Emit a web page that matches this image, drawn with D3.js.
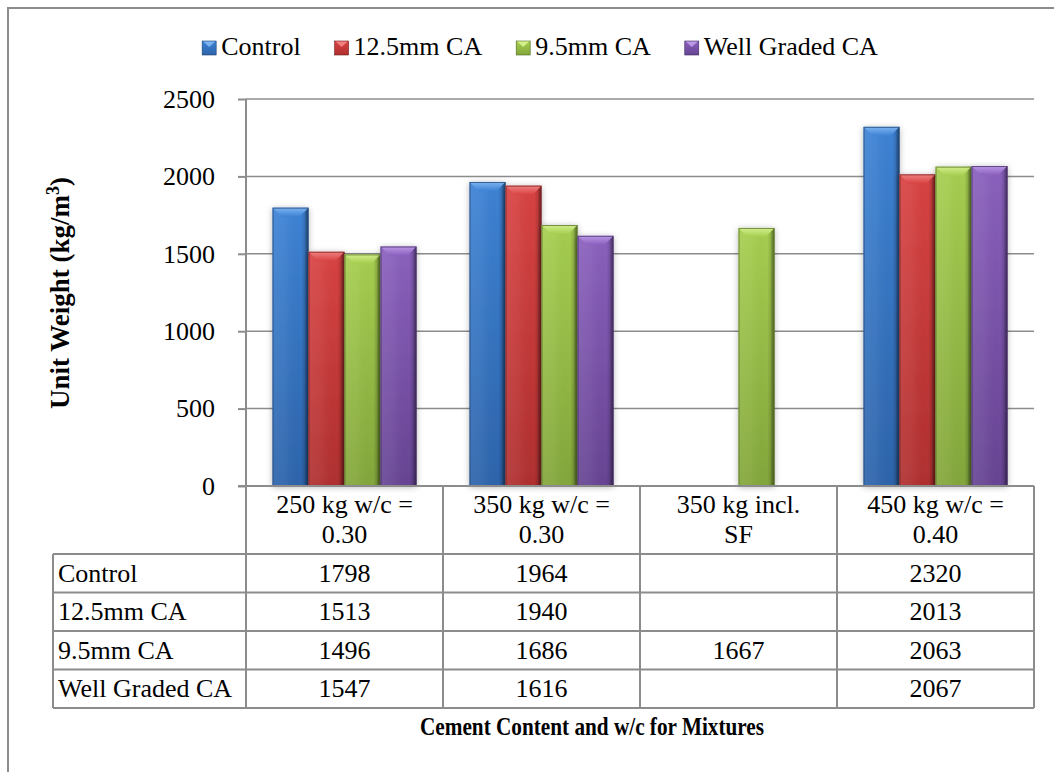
<!DOCTYPE html>
<html>
<head>
<meta charset="utf-8">
<script src="https://cdn.jsdelivr.net/npm/d3@7"></script>
<style>
  html, body { margin: 0; padding: 0; background: #fff; }
  svg { display: block; }
</style>
</head>
<body>
<svg id="chart" width="1054" height="772"></svg>
<script>
// Mixture groups (header lines of the data table)
const categories = ["250 kg w/c = 0.30", "350 kg w/c = 0.30", "350 kg incl. SF", "450 kg w/c = 0.40"];
const categoryLines = [["250 kg w/c =", "0.30"], ["350 kg w/c =", "0.30"], ["350 kg incl.", "SF"], ["450 kg w/c =", "0.40"]];

// Series names and unit weights (kg/m3); null = mixture not cast
const seriesNames = ["Control", "12.5mm CA", "9.5mm CA", "Well Graded CA"];
const control     = [1798, 1964, null, 2320];
const ca125       = [1513, 1940, null, 2013];
const ca95        = [1496, 1686, 1667, 2063];
const wellGraded  = [1547, 1616, null, 2067];
const seriesValues = [control, ca125, ca95, wellGraded];

const yTicks = [0, 500, 1000, 1500, 2000, 2500];

// Bar palettes: [top, bottom, bevel highlight, edge]
const palette = [
  ["#3d82d4", "#2d64ab", "#7db4f0", "#1d3f6e"],
  ["#d84343", "#b02f2f", "#f08080", "#6e1c1c"],
  ["#a6ce50", "#83a63b", "#d2ef8c", "#4f6a1e"],
  ["#8a60bd", "#674493", "#bb98e6", "#3d2760"]
];

const svg = d3.select("#chart");
const defs = svg.append("defs");

const plotLeft = 246, plotRight = 1034, plotTop = 99, plotBottom = 486;
const tableLeft = 53, tableBottom = 708, headerBottom = 554;
const grey = "#8c8c8c";

// Chart frame (runs off the right and bottom of the view)
svg.append("path")
  .attr("d", "M8,772 L8,8 L1054,8")
  .attr("fill", "none").attr("stroke", grey).attr("stroke-width", 2);

const x0 = d3.scaleBand().domain(categories).range([plotLeft, plotRight]);
const x1 = d3.scaleBand().domain(seriesNames).range([0, x0.bandwidth()]).paddingOuter(0.736);
const y = d3.scaleLinear().domain([0, 2500]).range([plotBottom, plotTop]);
const rowY = d3.scaleBand().domain(seriesNames).range([headerBottom, tableBottom]);

// Gradients and shadow
palette.forEach((p, i) => {
  const g = defs.append("linearGradient").attr("id", "body" + i)
    .attr("x1", 0).attr("y1", 0).attr("x2", 0).attr("y2", 1);
  g.append("stop").attr("offset", "0%").attr("stop-color", p[0]);
  g.append("stop").attr("offset", "100%").attr("stop-color", p[1]);
  const c = defs.append("linearGradient").attr("id", "cap" + i)
    .attr("x1", 0).attr("y1", 0).attr("x2", 0).attr("y2", 1);
  c.append("stop").attr("offset", "0%").attr("stop-color", p[2]);
  c.append("stop").attr("offset", "100%").attr("stop-color", p[0]);
});
const side = defs.append("linearGradient").attr("id", "side")
  .attr("x1", 0).attr("y1", 0).attr("x2", 1).attr("y2", 0);
side.append("stop").attr("offset", "0%").attr("stop-color", "#fff").attr("stop-opacity", 0.08);
side.append("stop").attr("offset", "35%").attr("stop-color", "#fff").attr("stop-opacity", 0.05);
side.append("stop").attr("offset", "80%").attr("stop-color", "#000").attr("stop-opacity", 0.0);
side.append("stop").attr("offset", "100%").attr("stop-color", "#000").attr("stop-opacity", 0.28);
const shadow = defs.append("filter").attr("id", "shadow")
  .attr("x", "-30%").attr("y", "-10%").attr("width", "160%").attr("height", "120%");
shadow.append("feDropShadow").attr("dx", 0).attr("dy", 1).attr("stdDeviation", 3)
  .attr("flood-color", "#000").attr("flood-opacity", 0.3);

// Gridlines
svg.append("g").selectAll("line")
  .data(yTicks.filter(d => d > 0))
  .join("line")
  .attr("x1", plotLeft).attr("x2", plotRight)
  .attr("y1", d => y(d)).attr("y2", d => y(d))
  .attr("stroke", grey).attr("stroke-width", 1.5);

const txt = (sel, size, weight) => sel
  .attr("font-family", "Liberation Serif")
  .attr("font-size", size)
  .attr("font-weight", weight || "normal")
  .attr("fill", "#000");

// Y axis
const yAxis = svg.append("g").attr("transform", `translate(${plotLeft},0)`)
  .call(d3.axisLeft(y).tickValues(yTicks).tickSize(8).tickPadding(23).tickFormat(d3.format("d")));
yAxis.attr("font-family", "Liberation Serif").attr("font-size", 26);
yAxis.select(".domain").remove();
yAxis.selectAll(".tick line").attr("stroke", grey).attr("stroke-width", 2);
yAxis.selectAll(".tick text").call(txt, 26);
svg.append("line")
  .attr("x1", plotLeft).attr("x2", plotLeft).attr("y1", plotTop).attr("y2", tableBottom)
  .attr("stroke", grey).attr("stroke-width", 2);

// Bars
const bev = 9;
const bars = [];
seriesValues.forEach((vals, si) => {
  vals.forEach((v, ci) => {
    if (v == null) return;
    bars.push({ si, ci, v });
  });
});
const barG = svg.append("g").selectAll("g").data(bars).join("g");
barG.each(function (d) {
  const g = d3.select(this);
  const xa = x0(categories[d.ci]) + x1(seriesNames[d.si]);
  const w = x1.bandwidth();
  const xb = xa + w;
  const yt = y(d.v), yb = y(0);
  const p = palette[d.si];
  g.append("rect").attr("x", xa).attr("y", yt).attr("width", w).attr("height", yb - yt)
    .attr("fill", `url(#body${d.si})`).attr("filter", "url(#shadow)");
  g.append("rect").attr("x", xa).attr("y", yt).attr("width", w).attr("height", yb - yt)
    .attr("fill", "url(#side)");
  // top bevel
  g.append("path")
    .attr("d", `M${xa},${yt} L${xb},${yt} L${xb - bev},${yt + bev} L${xa + bev},${yt + bev} Z`)
    .attr("fill", `url(#cap${d.si})`);
  // right bevel shade
  g.append("path")
    .attr("d", `M${xb},${yt} L${xb},${yb} L${xb - 3},${yb} L${xb - 3},${yt + 3} Z`)
    .attr("fill", "#000").attr("opacity", 0.18);
  g.append("rect").attr("x", xa + 0.5).attr("y", yt + 0.5).attr("width", w - 1).attr("height", yb - yt - 1)
    .attr("fill", "none").attr("stroke", p[3]).attr("stroke-opacity", 0.7).attr("stroke-width", 1);
});

// Data table
const table = svg.append("g");
const hLines = [plotBottom, ...seriesNames.map(s => rowY(s)), tableBottom];
table.selectAll("line.h").data(hLines).join("line").attr("class", "h")
  .attr("x1", (d, i) => i <= 0 ? plotLeft - 8 : tableLeft).attr("x2", plotRight)
  .attr("y1", d => d).attr("y2", d => d)
  .attr("stroke", grey).attr("stroke-width", 2);
const vLines = categories.map(c => x0(c)).concat([plotRight]);
table.selectAll("line.v").data(vLines).join("line").attr("class", "v")
  .attr("x1", d => d).attr("x2", d => d).attr("y1", plotBottom).attr("y2", tableBottom)
  .attr("stroke", grey).attr("stroke-width", 2);
table.append("line").attr("x1", tableLeft).attr("x2", tableLeft)
  .attr("y1", headerBottom).attr("y2", tableBottom).attr("stroke", grey).attr("stroke-width", 2);

// Header cells
categories.forEach((c, ci) => {
  const cx = x0(c) + x0.bandwidth() / 2;
  categoryLines[ci].forEach((line, li) => {
    table.append("text").attr("x", cx).attr("y", 513 + li * 30)
      .attr("text-anchor", "middle").call(txt, 26).text(line);
  });
});
// Row labels and values
seriesNames.forEach((s, si) => {
  const by = rowY(s) + 27.5;
  table.append("text").attr("x", tableLeft + 5).attr("y", by)
    .call(txt, 26).text(s);
  seriesValues[si].forEach((v, ci) => {
    if (v == null) return;
    table.append("text").attr("x", x0(categories[ci]) + x0.bandwidth() / 2).attr("y", by)
      .attr("text-anchor", "middle").call(txt, 26).text(v);
  });
});

// Axis titles
svg.append("text")
  .attr("transform", "translate(69,293) rotate(-90)")
  .attr("text-anchor", "middle").call(txt, 27, "bold")
  .call(t => {
    t.append("tspan").text("Unit Weight  (kg/m");
    t.append("tspan").attr("font-size", 18).attr("dy", -10).text("3");
    t.append("tspan").attr("dy", 10).text(")");
  });
svg.append("text")
  .attr("x", 592).attr("y", 735)
  .attr("text-anchor", "middle").call(txt, 26, "bold")
  .attr("textLength", 344).attr("lengthAdjust", "spacingAndGlyphs")
  .text("Cement Content and w/c for Mixtures");

// Legend
const legend = svg.append("g");
const items = legend.selectAll("g").data(seriesNames).join("g");
items.append("rect").attr("x", 0).attr("y", 41).attr("width", 14).attr("height", 14)
  .attr("fill", (d, i) => `url(#body${i})`)
  .attr("stroke", (d, i) => palette[i][3]).attr("stroke-width", 0.6);
items.append("path").attr("d", "M1,41.5 L13,41.5 L7,47 Z")
  .attr("fill", (d, i) => palette[i][2]);
items.append("text").attr("x", 19).attr("y", 55).call(txt, 26).text(d => d);
const widths = [];
items.each(function () { widths.push(19 + this.querySelector("text").getComputedTextLength()); });
const gap = 34;
const total = d3.sum(widths) + gap * (widths.length - 1);
let cx = 540 - total / 2;
items.attr("transform", (d, i) => {
  const t = `translate(${cx},0)`;
  cx += widths[i] + gap;
  return t;
});
</script>
</body>
</html>
